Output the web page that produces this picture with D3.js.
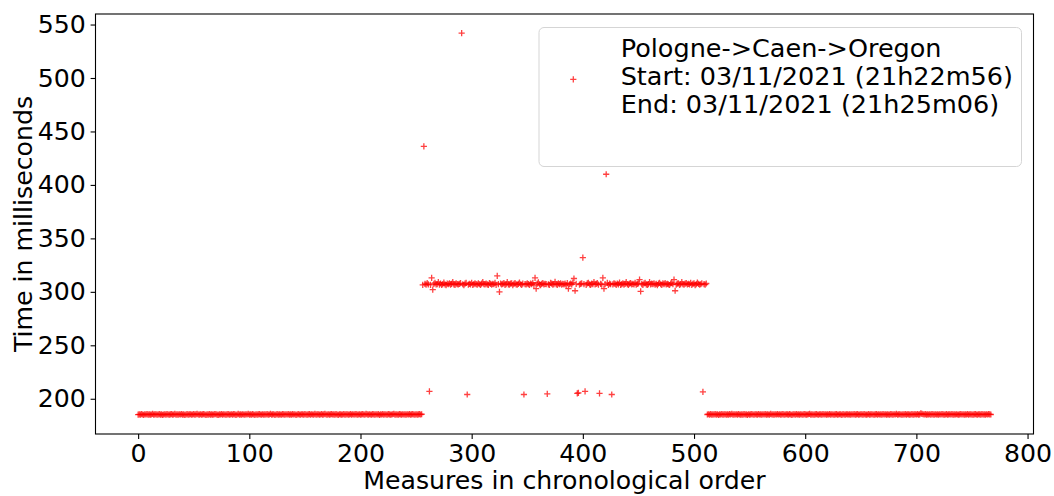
<!DOCTYPE html>
<html>
<head>
<meta charset="utf-8">
<script src="https://cdn.jsdelivr.net/npm/d3@7"></script>
<style>
  html, body { margin: 0; padding: 0; background: #fff; }
  svg { display: block; font-family: "DejaVu Sans", sans-serif; }
</style>
</head>
<body>
<svg id="chart" width="1054" height="496"></svg>
<script>
// ---- Data ----
// Phase 1: measures 0..255 (~185 ms)
const phase1 = [
185.2,185.4,185.1,185.6,185.3,185.0,185.5,185.3,185.7,185.2,185.4,185.1,185.3,185.8,185.2,185.4,
185.5,185.1,185.3,185.6,185.2,185.4,184.9,185.3,185.5,185.2,185.7,185.3,185.1,185.4,185.6,185.2,
185.3,185.9,185.2,185.4,185.1,185.5,185.3,185.6,185.2,185.4,185.0,185.3,185.7,185.2,185.4,185.5,
185.1,185.3,185.6,185.2,185.4,185.8,185.3,185.1,185.5,185.2,185.4,185.6,185.3,185.0,185.4,185.2,
185.6,185.2,185.4,185.1,185.3,185.7,185.5,185.2,185.0,185.4,185.3,185.6,185.1,185.5,185.3,185.2,
185.4,185.7,185.1,185.3,185.5,185.2,185.6,185.4,185.0,185.3,185.8,185.2,185.4,185.1,185.5,185.3,
185.2,185.5,185.3,185.9,185.1,185.4,185.2,185.6,185.3,185.0,185.5,185.2,185.4,185.7,185.3,185.1,
185.5,185.2,185.4,185.3,185.6,185.1,185.3,185.8,185.2,185.4,185.5,185.0,185.3,185.6,185.2,185.4,
185.3,185.1,185.6,185.4,185.2,185.5,185.3,185.7,185.1,185.4,185.2,185.6,185.3,185.5,184.9,185.3,
185.6,185.3,185.2,185.5,185.4,185.1,185.7,185.3,185.2,185.4,185.6,185.2,185.5,185.3,185.1,185.8,
185.2,185.4,185.5,185.1,185.3,185.6,185.2,185.4,185.9,185.3,185.1,185.5,185.2,185.4,185.6,185.3,
185.4,185.2,185.6,185.3,185.0,185.5,185.4,185.2,185.3,185.7,185.1,185.4,185.5,185.2,185.3,185.6,
185.1,185.5,185.3,185.4,185.7,185.2,185.3,185.5,185.1,185.4,185.6,185.3,185.2,185.8,185.4,185.1,
185.5,185.3,185.1,185.6,185.4,185.2,185.5,185.3,185.6,185.0,185.4,185.3,185.7,185.2,185.5,185.3,
185.2,185.6,185.4,185.1,185.3,185.5,185.8,185.2,185.4,185.3,185.1,185.6,185.4,185.2,185.5,185.3,
185.4,185.1,185.5,185.3,185.6,185.2,185.4,185.7,185.3,185.1,185.5,185.2,185.4,185.6,185.3,185.5
];
// Phase 2: measures 256..511 (~307 ms, with outliers)
const phase2 = [
306.5,436.0,307.4,306.8,308.1,307.0,207.0,306.6,313.0,302.0,307.5,308.4,306.9,307.3,309.0,306.7,
307.8,306.4,307.2,308.6,307.0,306.2,307.6,307.1,308.0,306.8,307.4,309.2,307.0,306.5,307.9,307.3,
306.9,307.5,308.2,542.0,307.1,306.3,307.7,308.3,204.0,306.8,307.4,307.0,308.5,306.6,307.2,307.9,
307.3,306.7,308.0,307.1,306.4,307.6,309.1,307.2,306.9,307.8,307.0,306.5,308.2,307.4,306.8,307.5,
307.1,308.4,306.6,315.0,307.3,300.0,307.8,306.9,307.4,308.1,306.5,307.2,309.0,307.0,306.7,307.6,
307.9,306.3,307.5,308.2,307.0,306.8,307.4,308.7,307.1,306.5,307.7,204.0,307.3,306.9,308.0,307.2,
306.6,307.8,307.1,308.5,306.4,313.0,303.0,307.6,308.9,307.0,306.2,307.4,308.1,306.9,307.5,307.2,
204.5,307.0,306.5,308.3,307.7,306.8,307.3,309.4,307.1,306.6,307.9,307.2,308.0,306.7,307.4,307.0,
307.6,306.3,308.2,303.0,307.1,307.8,306.9,308.6,312.5,301.0,307.4,205.0,205.5,306.8,307.5,308.0,
332.0,307.2,207.0,306.6,307.9,308.4,307.0,306.5,307.6,307.3,309.0,306.9,307.4,308.1,306.7,205.0,
307.5,306.8,313.0,303.0,307.2,410.0,308.3,306.4,307.7,307.1,204.0,306.9,308.0,307.4,306.6,307.8,
307.0,308.6,306.5,307.3,307.9,306.8,307.5,309.2,307.1,306.4,307.6,308.1,306.9,307.4,307.0,308.3,
306.7,307.5,308.0,311.5,300.5,307.2,306.6,307.8,308.4,307.0,306.5,307.3,309.1,306.9,307.6,307.2,
308.0,306.8,307.4,306.3,307.7,308.5,307.1,306.6,307.9,307.3,308.2,306.9,307.5,307.0,306.4,307.8,
308.3,307.1,311.5,301.0,306.7,307.6,308.0,306.5,307.3,309.0,307.2,306.8,307.7,308.1,306.9,307.4,
307.0,308.4,306.6,307.5,307.9,306.3,307.2,308.6,307.4,306.8,307.1,308.0,206.5,307.3,306.7,307.8
];
// Phase 3: measures 512..767 (~185 ms)
const phase3 = [
185.3,185.5,185.2,185.6,185.1,185.4,185.3,185.7,185.2,185.5,185.0,185.4,185.3,185.6,185.2,185.4,
185.5,185.2,185.4,185.1,185.6,185.3,185.8,185.2,185.4,185.3,185.5,185.1,185.6,185.3,185.2,185.4,
185.2,185.6,185.3,185.4,185.0,185.5,185.2,185.4,185.7,185.3,185.1,185.5,185.4,185.2,185.6,185.3,
185.4,185.1,185.5,185.3,185.6,185.2,185.4,185.3,185.1,185.8,185.3,185.4,185.2,185.5,185.3,185.6,
185.3,185.5,185.2,185.4,185.6,185.1,185.3,185.5,185.4,185.2,185.7,185.3,185.0,185.4,185.5,185.2,
185.6,185.3,185.4,185.2,185.5,185.3,185.1,185.6,185.4,185.2,185.3,185.5,185.8,185.2,185.4,185.3,
185.2,185.4,185.6,185.3,185.1,185.5,185.4,185.2,185.6,185.3,185.5,185.1,185.4,185.3,185.7,185.2,
185.5,185.3,185.1,185.4,185.6,185.2,185.3,185.5,185.4,185.0,185.6,185.3,185.2,185.5,185.4,185.3,
185.4,185.2,185.5,185.3,185.7,185.1,185.4,185.6,185.2,185.3,185.5,185.4,185.1,185.6,185.3,185.2,
185.3,185.6,185.2,185.4,185.5,185.3,185.1,185.4,185.7,185.2,185.5,185.3,185.4,185.2,185.6,185.3,
185.5,185.2,185.4,185.3,185.1,185.6,185.4,185.2,185.5,185.3,185.8,185.2,185.4,185.5,185.3,185.1,
185.4,185.3,185.6,185.2,185.5,185.4,185.1,185.3,185.6,185.2,185.4,185.5,185.3,185.7,185.2,185.4,
186.4,185.9,185.5,185.3,185.6,185.2,185.4,185.3,185.5,185.1,185.6,185.4,185.2,185.5,185.3,185.4,
185.2,185.5,185.3,185.6,185.4,185.1,185.3,185.7,185.2,185.4,185.5,185.3,185.6,185.2,185.4,185.3,
185.5,185.3,185.2,185.4,185.6,185.3,185.5,185.1,185.4,185.3,185.6,185.2,185.5,185.4,185.3,185.2,
185.4,185.6,185.3,185.2,185.5,185.4,185.1,185.6,185.3,185.4,185.2,185.5,185.3,185.6,185.4,185.3
];
const xTicks = [0, 100, 200, 300, 400, 500, 600, 700, 800];
const yTicks = [200, 250, 300, 350, 400, 450, 500, 550];
const legendLines = ["Pologne->Caen->Oregon", "Start: 03/11/2021 (21h22m56)", "End: 03/11/2021 (21h25m06)"];
const xLabel = "Measures in chronological order";
const yLabel = "Time in milliseconds";

// ---- Build points ----
const values = phase1.concat(phase2, phase3);
const points = values.map((v, i) => ({ x: i, y: v }));

// ---- Layout ----
const svg = d3.select("#chart");
const plot = { left: 95.5, right: 1033.5, top: 14, bottom: 434 };

const xExt = d3.extent(points, d => d.x);
const yExt = d3.extent(points, d => d.y);
const xPad = (xExt[1] - xExt[0]) * 0.05;
const yPad = (yExt[1] - yExt[0]) * 0.05;

const x = d3.scaleLinear().domain([xExt[0] - xPad, xExt[1] + xPad]).range([plot.left, plot.right]);
const y = d3.scaleLinear().domain([yExt[0] - yPad, yExt[1] + yPad]).range([plot.bottom, plot.top]);

const FS = 25.2;
const LFS = 25.5;
const tickLen = 4.9, tickPad = 4.9;

// Axes
const gx = svg.append("g")
  .attr("transform", `translate(0,${plot.bottom})`)
  .call(d3.axisBottom(x).tickValues(xTicks).tickFormat(d3.format("d")).tickSize(tickLen).tickPadding(tickPad));
const gy = svg.append("g")
  .attr("transform", `translate(${plot.left},0)`)
  .call(d3.axisLeft(y).tickValues(yTicks).tickFormat(d3.format("d")).tickSize(tickLen).tickPadding(tickPad));
[gx, gy].forEach(g => {
  g.select(".domain").remove();
  g.selectAll(".tick line").attr("stroke", "#000").attr("stroke-width", 1.1);
  g.selectAll(".tick text").attr("font-size", FS).attr("font-family", "DejaVu Sans").attr("fill", "#000");
});

// Markers
const arm = 3.1;
const plusPath = `M${-arm},0H${arm}M0,${-arm}V${arm}`;
svg.append("g")
  .selectAll("path")
  .data(points)
  .join("path")
  .attr("transform", d => `translate(${x(d.x)},${y(d.y)})`)
  .attr("d", plusPath)
  .attr("fill", "none")
  .attr("stroke", "red")
  .attr("stroke-opacity", 0.75)
  .attr("stroke-width", 1.3);

// Frame (spines)
svg.append("rect")
  .attr("x", plot.left).attr("y", plot.top)
  .attr("width", plot.right - plot.left).attr("height", plot.bottom - plot.top)
  .attr("fill", "none").attr("stroke", "#000").attr("stroke-width", 1.1);

// Axis labels
svg.append("text")
  .attr("x", (plot.left + plot.right) / 2).attr("y", 488.5)
  .attr("text-anchor", "middle").attr("font-size", FS).attr("fill", "#000")
  .text(xLabel);
svg.append("text")
  .attr("transform", `translate(32,${(plot.top + plot.bottom) / 2}) rotate(-90)`)
  .attr("text-anchor", "middle").attr("font-size", FS).attr("fill", "#000")
  .text(yLabel);

// Legend
const lg = svg.append("g");
lg.append("rect")
  .attr("x", 539).attr("y", 27.5).attr("width", 482.5).attr("height", 139)
  .attr("rx", 5).attr("ry", 5)
  .attr("fill", "#fff").attr("fill-opacity", 0.8)
  .attr("stroke", "#d5d5d5").attr("stroke-width", 1);
lg.append("path")
  .attr("transform", "translate(573.3,79.3)")
  .attr("d", plusPath)
  .attr("fill", "none").attr("stroke", "red").attr("stroke-opacity", 0.75).attr("stroke-width", 1.3);
const baselines = [57.3, 85.2, 113];
lg.selectAll("text.leg")
  .data(legendLines)
  .join("text")
  .attr("class", "leg")
  .attr("x", 620.7)
  .attr("y", (d, i) => baselines[i])
  .attr("font-size", LFS).attr("fill", "#000")
  .text(d => d);
</script>
</body>
</html>
